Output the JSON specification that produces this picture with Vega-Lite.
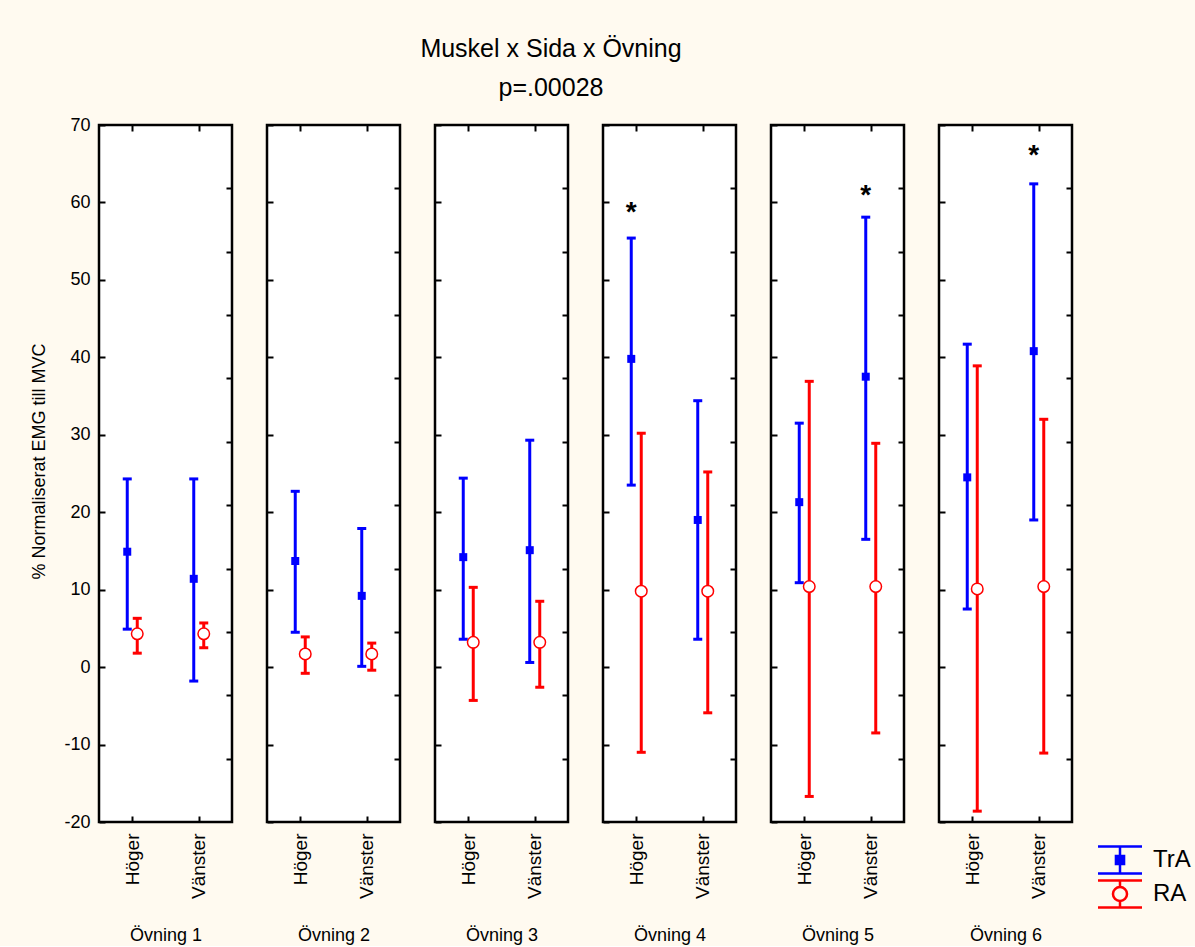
{
"$schema":"https://vega.github.io/schema/vega-lite/v6.json",
"background":"#fffaf0",
"padding":{"left":28,"top":36,"right":5,"bottom":0},
"title":{"text":"Muskel x Sida x Övning","subtitle":"p=.00028","anchor":"start","align":"center","frame":"group","dx":452,"offset":14,"subtitlePadding":14,"fontSize":25,"subtitleFontSize":25,"font":"Liberation Sans","subtitleFont":"Liberation Sans","fontWeight":"normal","color":"#000000","subtitleColor":"#000000"},
"datasets":{
"bars":[
{"ex":"Övning 1","side":"Höger","m":"TrA","mean":14.9,"lo":4.9,"hi":24.3},
{"ex":"Övning 1","side":"Höger","m":"RA","mean":4.3,"lo":1.8,"hi":6.3},
{"ex":"Övning 1","side":"Vänster","m":"TrA","mean":11.4,"lo":-1.8,"hi":24.3},
{"ex":"Övning 1","side":"Vänster","m":"RA","mean":4.3,"lo":2.5,"hi":5.7},
{"ex":"Övning 2","side":"Höger","m":"TrA","mean":13.7,"lo":4.5,"hi":22.7},
{"ex":"Övning 2","side":"Höger","m":"RA","mean":1.7,"lo":-0.8,"hi":3.9},
{"ex":"Övning 2","side":"Vänster","m":"TrA","mean":9.2,"lo":0.1,"hi":17.9},
{"ex":"Övning 2","side":"Vänster","m":"RA","mean":1.7,"lo":-0.4,"hi":3.1},
{"ex":"Övning 3","side":"Höger","m":"TrA","mean":14.2,"lo":3.6,"hi":24.4},
{"ex":"Övning 3","side":"Höger","m":"RA","mean":3.2,"lo":-4.3,"hi":10.3},
{"ex":"Övning 3","side":"Vänster","m":"TrA","mean":15.1,"lo":0.6,"hi":29.3},
{"ex":"Övning 3","side":"Vänster","m":"RA","mean":3.2,"lo":-2.6,"hi":8.5},
{"ex":"Övning 4","side":"Höger","m":"TrA","mean":39.8,"lo":23.5,"hi":55.4},
{"ex":"Övning 4","side":"Höger","m":"RA","mean":9.8,"lo":-11.0,"hi":30.2},
{"ex":"Övning 4","side":"Vänster","m":"TrA","mean":19.0,"lo":3.6,"hi":34.4},
{"ex":"Övning 4","side":"Vänster","m":"RA","mean":9.8,"lo":-5.9,"hi":25.2},
{"ex":"Övning 5","side":"Höger","m":"TrA","mean":21.3,"lo":10.9,"hi":31.5},
{"ex":"Övning 5","side":"Höger","m":"RA","mean":10.4,"lo":-16.7,"hi":36.9},
{"ex":"Övning 5","side":"Vänster","m":"TrA","mean":37.5,"lo":16.5,"hi":58.1},
{"ex":"Övning 5","side":"Vänster","m":"RA","mean":10.4,"lo":-8.5,"hi":28.9},
{"ex":"Övning 6","side":"Höger","m":"TrA","mean":24.5,"lo":7.5,"hi":41.7},
{"ex":"Övning 6","side":"Höger","m":"RA","mean":10.1,"lo":-18.6,"hi":38.9},
{"ex":"Övning 6","side":"Vänster","m":"TrA","mean":40.8,"lo":19.0,"hi":62.4},
{"ex":"Övning 6","side":"Vänster","m":"RA","mean":10.4,"lo":-11.1,"hi":32.0}
],
"stars":[
{"ex":"Övning 4","side":"Höger","y":59.0,"label":"*"},
{"ex":"Övning 5","side":"Vänster","y":61.2,"label":"*"},
{"ex":"Övning 6","side":"Vänster","y":66.4,"label":"*"}
]
},
"data":{"name":"bars"},
"spacing":35,
"bounds":"flush",
"hconcat":[
{"width":133,"height":697,"resolve":{"axis":{"x":"independent","y":"independent"}},
"transform":[{"filter":"datum.ex === 'Övning 1'"}],
"layer":[
{"transform":[{"filter":"datum.m === 'TrA'"}],"mark":{"type":"rule","color":"#0000ff","strokeWidth":3,"xOffset":-5},
"encoding":{"x":{"field":"side","type":"nominal","scale":{"type":"point","domain":["Höger","Vänster"],"padding":0.5},"axis":{"orient":"bottom","labelAngle":270,"labelPadding":17,"labelFontSize":19,"title":"Övning 1","titleY":118,"titleBaseline":"alphabetic"}},
"y":{"field":"lo","type":"quantitative","scale":{"domain":[-20,70],"nice":false,"zero":false},"axis":{"orient":"left","values":[-20,-10,0,10,20,30,40,50,60,70],"labelExpr":"replace(datum.label, '−', '-')","labelPadding":15,"title":"% Normaliserat EMG till MVC","titleX":-55,"titleY":336,"titleBaseline":"alphabetic","titleAngle":270}},"y2":{"field":"hi"}}},
{"transform":[{"filter":"datum.m === 'RA'"}],"mark":{"type":"rule","color":"#ff0000","strokeWidth":3,"xOffset":5},
"encoding":{"x":{"field":"side","type":"nominal","axis":{"orient":"top","labels":false,"title":null}},
"y":{"field":"lo","type":"quantitative","axis":{"orient":"right","values":[61.818,53.636,45.455,37.273,29.091,20.909,12.727,4.545,-3.636,-11.818],"labels":false,"title":null}},"y2":{"field":"hi"}}},
{"transform":[{"filter":"datum.m === 'TrA'"},{"fold":["lo","hi"],"as":["k","v"]}],"mark":{"type":"tick","orient":"horizontal","color":"#0000ff","thickness":3,"size":9,"xOffset":-5,"opacity":1},
"encoding":{"x":{"field":"side","type":"nominal","axis":null},"y":{"field":"v","type":"quantitative","axis":null}}},
{"transform":[{"filter":"datum.m === 'RA'"},{"fold":["lo","hi"],"as":["k","v"]}],"mark":{"type":"tick","orient":"horizontal","color":"#ff0000","thickness":3,"size":9,"xOffset":5,"opacity":1},
"encoding":{"x":{"field":"side","type":"nominal","axis":null},"y":{"field":"v","type":"quantitative","axis":null}}},
{"transform":[{"filter":"datum.m === 'TrA'"}],"mark":{"type":"point","shape":"square","filled":true,"size":64,"color":"#0000ff","opacity":1,"xOffset":-5},
"encoding":{"x":{"field":"side","type":"nominal","axis":null},"y":{"field":"mean","type":"quantitative","axis":null}}},
{"transform":[{"filter":"datum.m === 'RA'"}],"mark":{"type":"point","shape":"circle","filled":true,"fill":"#ffffff","stroke":"#ff0000","strokeWidth":1.5,"size":133,"opacity":1,"xOffset":5},
"encoding":{"x":{"field":"side","type":"nominal","axis":null},"y":{"field":"mean","type":"quantitative","axis":null}}},
{"mark":{"type":"point","filled":false,"opacity":0,"size":1},
"encoding":{"x":{"field":"side","type":"nominal","axis":null},"y":{"field":"mean","type":"quantitative","axis":null},
"stroke":{"field":"m","type":"nominal","scale":{"domain":["TrA","RA"],"range":["#0000ff","#ff0000"]},
"legend":{"orient":"none","legendX":1006,"legendY":720,"title":null,"symbolSize":729,"symbolOpacity":1,"symbolStrokeWidth":2.5,"symbolFillColor":"#ffffff","labelFontSize":24,"labelOffset":18,"rowPadding":-4,"padding":0,"labelFont":"Liberation Sans","labelColor":"#000000","labelBaseline":"middle"}},
"shape":{"field":"m","type":"nominal","scale":{"domain":["TrA","RA"],"range":["M-1.63,-1H1.63M0,-1V1M-1.63,1H1.63M-0.3,-0.3H0.3V0.3H-0.3ZM-0.2,-0.2H0.2V0.2H-0.2ZM-0.1,-0.1H0.1V0.1H-0.1Z","M-1.63,-1H1.63M0,-1V-0.52M0,0.52V1M-1.63,1H1.63M0.52,0A0.52,0.52,0,1,1,-0.52,0A0.52,0.52,0,1,1,0.52,0Z"]}}}}
]},
{"width":133,"height":697,"resolve":{"axis":{"x":"independent","y":"independent"}},
"transform":[{"filter":"datum.ex === 'Övning 2'"}],
"layer":[
{"transform":[{"filter":"datum.m === 'TrA'"}],"mark":{"type":"rule","color":"#0000ff","strokeWidth":3,"xOffset":-5},
"encoding":{"x":{"field":"side","type":"nominal","scale":{"type":"point","domain":["Höger","Vänster"],"padding":0.5},"axis":{"orient":"bottom","labelAngle":270,"labelPadding":17,"labelFontSize":19,"title":"Övning 2","titleY":118,"titleBaseline":"alphabetic"}},
"y":{"field":"lo","type":"quantitative","scale":{"domain":[-20,70],"nice":false,"zero":false},"axis":{"orient":"left","values":[-20,-10,0,10,20,30,40,50,60,70],"labels":false,"title":null}},"y2":{"field":"hi"}}},
{"transform":[{"filter":"datum.m === 'RA'"}],"mark":{"type":"rule","color":"#ff0000","strokeWidth":3,"xOffset":5},
"encoding":{"x":{"field":"side","type":"nominal","axis":{"orient":"top","labels":false,"title":null}},
"y":{"field":"lo","type":"quantitative","axis":{"orient":"right","values":[61.818,53.636,45.455,37.273,29.091,20.909,12.727,4.545,-3.636,-11.818],"labels":false,"title":null}},"y2":{"field":"hi"}}},
{"transform":[{"filter":"datum.m === 'TrA'"},{"fold":["lo","hi"],"as":["k","v"]}],"mark":{"type":"tick","orient":"horizontal","color":"#0000ff","thickness":3,"size":9,"xOffset":-5,"opacity":1},
"encoding":{"x":{"field":"side","type":"nominal","axis":null},"y":{"field":"v","type":"quantitative","axis":null}}},
{"transform":[{"filter":"datum.m === 'RA'"},{"fold":["lo","hi"],"as":["k","v"]}],"mark":{"type":"tick","orient":"horizontal","color":"#ff0000","thickness":3,"size":9,"xOffset":5,"opacity":1},
"encoding":{"x":{"field":"side","type":"nominal","axis":null},"y":{"field":"v","type":"quantitative","axis":null}}},
{"transform":[{"filter":"datum.m === 'TrA'"}],"mark":{"type":"point","shape":"square","filled":true,"size":64,"color":"#0000ff","opacity":1,"xOffset":-5},
"encoding":{"x":{"field":"side","type":"nominal","axis":null},"y":{"field":"mean","type":"quantitative","axis":null}}},
{"transform":[{"filter":"datum.m === 'RA'"}],"mark":{"type":"point","shape":"circle","filled":true,"fill":"#ffffff","stroke":"#ff0000","strokeWidth":1.5,"size":133,"opacity":1,"xOffset":5},
"encoding":{"x":{"field":"side","type":"nominal","axis":null},"y":{"field":"mean","type":"quantitative","axis":null}}}
]},
{"width":133,"height":697,"resolve":{"axis":{"x":"independent","y":"independent"}},
"transform":[{"filter":"datum.ex === 'Övning 3'"}],
"layer":[
{"transform":[{"filter":"datum.m === 'TrA'"}],"mark":{"type":"rule","color":"#0000ff","strokeWidth":3,"xOffset":-5},
"encoding":{"x":{"field":"side","type":"nominal","scale":{"type":"point","domain":["Höger","Vänster"],"padding":0.5},"axis":{"orient":"bottom","labelAngle":270,"labelPadding":17,"labelFontSize":19,"title":"Övning 3","titleY":118,"titleBaseline":"alphabetic"}},
"y":{"field":"lo","type":"quantitative","scale":{"domain":[-20,70],"nice":false,"zero":false},"axis":{"orient":"left","values":[-20,-10,0,10,20,30,40,50,60,70],"labels":false,"title":null}},"y2":{"field":"hi"}}},
{"transform":[{"filter":"datum.m === 'RA'"}],"mark":{"type":"rule","color":"#ff0000","strokeWidth":3,"xOffset":5},
"encoding":{"x":{"field":"side","type":"nominal","axis":{"orient":"top","labels":false,"title":null}},
"y":{"field":"lo","type":"quantitative","axis":{"orient":"right","values":[61.818,53.636,45.455,37.273,29.091,20.909,12.727,4.545,-3.636,-11.818],"labels":false,"title":null}},"y2":{"field":"hi"}}},
{"transform":[{"filter":"datum.m === 'TrA'"},{"fold":["lo","hi"],"as":["k","v"]}],"mark":{"type":"tick","orient":"horizontal","color":"#0000ff","thickness":3,"size":9,"xOffset":-5,"opacity":1},
"encoding":{"x":{"field":"side","type":"nominal","axis":null},"y":{"field":"v","type":"quantitative","axis":null}}},
{"transform":[{"filter":"datum.m === 'RA'"},{"fold":["lo","hi"],"as":["k","v"]}],"mark":{"type":"tick","orient":"horizontal","color":"#ff0000","thickness":3,"size":9,"xOffset":5,"opacity":1},
"encoding":{"x":{"field":"side","type":"nominal","axis":null},"y":{"field":"v","type":"quantitative","axis":null}}},
{"transform":[{"filter":"datum.m === 'TrA'"}],"mark":{"type":"point","shape":"square","filled":true,"size":64,"color":"#0000ff","opacity":1,"xOffset":-5},
"encoding":{"x":{"field":"side","type":"nominal","axis":null},"y":{"field":"mean","type":"quantitative","axis":null}}},
{"transform":[{"filter":"datum.m === 'RA'"}],"mark":{"type":"point","shape":"circle","filled":true,"fill":"#ffffff","stroke":"#ff0000","strokeWidth":1.5,"size":133,"opacity":1,"xOffset":5},
"encoding":{"x":{"field":"side","type":"nominal","axis":null},"y":{"field":"mean","type":"quantitative","axis":null}}}
]},
{"width":133,"height":697,"resolve":{"axis":{"x":"independent","y":"independent"}},
"transform":[{"filter":"datum.ex === 'Övning 4'"}],
"layer":[
{"transform":[{"filter":"datum.m === 'TrA'"}],"mark":{"type":"rule","color":"#0000ff","strokeWidth":3,"xOffset":-5},
"encoding":{"x":{"field":"side","type":"nominal","scale":{"type":"point","domain":["Höger","Vänster"],"padding":0.5},"axis":{"orient":"bottom","labelAngle":270,"labelPadding":17,"labelFontSize":19,"title":"Övning 4","titleY":118,"titleBaseline":"alphabetic"}},
"y":{"field":"lo","type":"quantitative","scale":{"domain":[-20,70],"nice":false,"zero":false},"axis":{"orient":"left","values":[-20,-10,0,10,20,30,40,50,60,70],"labels":false,"title":null}},"y2":{"field":"hi"}}},
{"transform":[{"filter":"datum.m === 'RA'"}],"mark":{"type":"rule","color":"#ff0000","strokeWidth":3,"xOffset":5},
"encoding":{"x":{"field":"side","type":"nominal","axis":{"orient":"top","labels":false,"title":null}},
"y":{"field":"lo","type":"quantitative","axis":{"orient":"right","values":[61.818,53.636,45.455,37.273,29.091,20.909,12.727,4.545,-3.636,-11.818],"labels":false,"title":null}},"y2":{"field":"hi"}}},
{"transform":[{"filter":"datum.m === 'TrA'"},{"fold":["lo","hi"],"as":["k","v"]}],"mark":{"type":"tick","orient":"horizontal","color":"#0000ff","thickness":3,"size":9,"xOffset":-5,"opacity":1},
"encoding":{"x":{"field":"side","type":"nominal","axis":null},"y":{"field":"v","type":"quantitative","axis":null}}},
{"transform":[{"filter":"datum.m === 'RA'"},{"fold":["lo","hi"],"as":["k","v"]}],"mark":{"type":"tick","orient":"horizontal","color":"#ff0000","thickness":3,"size":9,"xOffset":5,"opacity":1},
"encoding":{"x":{"field":"side","type":"nominal","axis":null},"y":{"field":"v","type":"quantitative","axis":null}}},
{"transform":[{"filter":"datum.m === 'TrA'"}],"mark":{"type":"point","shape":"square","filled":true,"size":64,"color":"#0000ff","opacity":1,"xOffset":-5},
"encoding":{"x":{"field":"side","type":"nominal","axis":null},"y":{"field":"mean","type":"quantitative","axis":null}}},
{"transform":[{"filter":"datum.m === 'RA'"}],"mark":{"type":"point","shape":"circle","filled":true,"fill":"#ffffff","stroke":"#ff0000","strokeWidth":1.5,"size":133,"opacity":1,"xOffset":5},
"encoding":{"x":{"field":"side","type":"nominal","axis":null},"y":{"field":"mean","type":"quantitative","axis":null}}},
{"data":{"name":"stars"},"transform":[{"filter":"datum.ex === 'Övning 4'"}],"mark":{"type":"text","fontSize":28,"fontWeight":"bold","font":"Liberation Sans","color":"#000000","xOffset":-5,"baseline":"alphabetic","dy":11},
"encoding":{"x":{"field":"side","type":"nominal","axis":null},"y":{"field":"y","type":"quantitative","axis":null},"text":{"field":"label"}}}
]},
{"width":133,"height":697,"resolve":{"axis":{"x":"independent","y":"independent"}},
"transform":[{"filter":"datum.ex === 'Övning 5'"}],
"layer":[
{"transform":[{"filter":"datum.m === 'TrA'"}],"mark":{"type":"rule","color":"#0000ff","strokeWidth":3,"xOffset":-5},
"encoding":{"x":{"field":"side","type":"nominal","scale":{"type":"point","domain":["Höger","Vänster"],"padding":0.5},"axis":{"orient":"bottom","labelAngle":270,"labelPadding":17,"labelFontSize":19,"title":"Övning 5","titleY":118,"titleBaseline":"alphabetic"}},
"y":{"field":"lo","type":"quantitative","scale":{"domain":[-20,70],"nice":false,"zero":false},"axis":{"orient":"left","values":[-20,-10,0,10,20,30,40,50,60,70],"labels":false,"title":null}},"y2":{"field":"hi"}}},
{"transform":[{"filter":"datum.m === 'RA'"}],"mark":{"type":"rule","color":"#ff0000","strokeWidth":3,"xOffset":5},
"encoding":{"x":{"field":"side","type":"nominal","axis":{"orient":"top","labels":false,"title":null}},
"y":{"field":"lo","type":"quantitative","axis":{"orient":"right","values":[61.818,53.636,45.455,37.273,29.091,20.909,12.727,4.545,-3.636,-11.818],"labels":false,"title":null}},"y2":{"field":"hi"}}},
{"transform":[{"filter":"datum.m === 'TrA'"},{"fold":["lo","hi"],"as":["k","v"]}],"mark":{"type":"tick","orient":"horizontal","color":"#0000ff","thickness":3,"size":9,"xOffset":-5,"opacity":1},
"encoding":{"x":{"field":"side","type":"nominal","axis":null},"y":{"field":"v","type":"quantitative","axis":null}}},
{"transform":[{"filter":"datum.m === 'RA'"},{"fold":["lo","hi"],"as":["k","v"]}],"mark":{"type":"tick","orient":"horizontal","color":"#ff0000","thickness":3,"size":9,"xOffset":5,"opacity":1},
"encoding":{"x":{"field":"side","type":"nominal","axis":null},"y":{"field":"v","type":"quantitative","axis":null}}},
{"transform":[{"filter":"datum.m === 'TrA'"}],"mark":{"type":"point","shape":"square","filled":true,"size":64,"color":"#0000ff","opacity":1,"xOffset":-5},
"encoding":{"x":{"field":"side","type":"nominal","axis":null},"y":{"field":"mean","type":"quantitative","axis":null}}},
{"transform":[{"filter":"datum.m === 'RA'"}],"mark":{"type":"point","shape":"circle","filled":true,"fill":"#ffffff","stroke":"#ff0000","strokeWidth":1.5,"size":133,"opacity":1,"xOffset":5},
"encoding":{"x":{"field":"side","type":"nominal","axis":null},"y":{"field":"mean","type":"quantitative","axis":null}}},
{"data":{"name":"stars"},"transform":[{"filter":"datum.ex === 'Övning 5'"}],"mark":{"type":"text","fontSize":28,"fontWeight":"bold","font":"Liberation Sans","color":"#000000","xOffset":-5,"baseline":"alphabetic","dy":11},
"encoding":{"x":{"field":"side","type":"nominal","axis":null},"y":{"field":"y","type":"quantitative","axis":null},"text":{"field":"label"}}}
]},
{"width":133,"height":697,"resolve":{"axis":{"x":"independent","y":"independent"}},
"transform":[{"filter":"datum.ex === 'Övning 6'"}],
"layer":[
{"transform":[{"filter":"datum.m === 'TrA'"}],"mark":{"type":"rule","color":"#0000ff","strokeWidth":3,"xOffset":-5},
"encoding":{"x":{"field":"side","type":"nominal","scale":{"type":"point","domain":["Höger","Vänster"],"padding":0.5},"axis":{"orient":"bottom","labelAngle":270,"labelPadding":17,"labelFontSize":19,"title":"Övning 6","titleY":118,"titleBaseline":"alphabetic"}},
"y":{"field":"lo","type":"quantitative","scale":{"domain":[-20,70],"nice":false,"zero":false},"axis":{"orient":"left","values":[-20,-10,0,10,20,30,40,50,60,70],"labels":false,"title":null}},"y2":{"field":"hi"}}},
{"transform":[{"filter":"datum.m === 'RA'"}],"mark":{"type":"rule","color":"#ff0000","strokeWidth":3,"xOffset":5},
"encoding":{"x":{"field":"side","type":"nominal","axis":{"orient":"top","labels":false,"title":null}},
"y":{"field":"lo","type":"quantitative","axis":{"orient":"right","values":[61.818,53.636,45.455,37.273,29.091,20.909,12.727,4.545,-3.636,-11.818],"labels":false,"title":null}},"y2":{"field":"hi"}}},
{"transform":[{"filter":"datum.m === 'TrA'"},{"fold":["lo","hi"],"as":["k","v"]}],"mark":{"type":"tick","orient":"horizontal","color":"#0000ff","thickness":3,"size":9,"xOffset":-5,"opacity":1},
"encoding":{"x":{"field":"side","type":"nominal","axis":null},"y":{"field":"v","type":"quantitative","axis":null}}},
{"transform":[{"filter":"datum.m === 'RA'"},{"fold":["lo","hi"],"as":["k","v"]}],"mark":{"type":"tick","orient":"horizontal","color":"#ff0000","thickness":3,"size":9,"xOffset":5,"opacity":1},
"encoding":{"x":{"field":"side","type":"nominal","axis":null},"y":{"field":"v","type":"quantitative","axis":null}}},
{"transform":[{"filter":"datum.m === 'TrA'"}],"mark":{"type":"point","shape":"square","filled":true,"size":64,"color":"#0000ff","opacity":1,"xOffset":-5},
"encoding":{"x":{"field":"side","type":"nominal","axis":null},"y":{"field":"mean","type":"quantitative","axis":null}}},
{"transform":[{"filter":"datum.m === 'RA'"}],"mark":{"type":"point","shape":"circle","filled":true,"fill":"#ffffff","stroke":"#ff0000","strokeWidth":1.5,"size":133,"opacity":1,"xOffset":5},
"encoding":{"x":{"field":"side","type":"nominal","axis":null},"y":{"field":"mean","type":"quantitative","axis":null}}},
{"data":{"name":"stars"},"transform":[{"filter":"datum.ex === 'Övning 6'"}],"mark":{"type":"text","fontSize":28,"fontWeight":"bold","font":"Liberation Sans","color":"#000000","xOffset":-5,"baseline":"alphabetic","dy":11},
"encoding":{"x":{"field":"side","type":"nominal","axis":null},"y":{"field":"y","type":"quantitative","axis":null},"text":{"field":"label"}}}
]}
],
"config":{
"font":"Liberation Sans",
"view":{"stroke":"#000000","strokeWidth":2.5,"fill":"#ffffff"},
"axis":{"domain":false,"grid":false,"ticks":true,"tickColor":"#000000","tickWidth":2,"tickSize":-6,"labelColor":"#000000","labelFont":"Liberation Sans","labelFontSize":18,"titleFont":"Liberation Sans","titleFontSize":18,"titleFontWeight":"normal","titleColor":"#000000"}
}
}
